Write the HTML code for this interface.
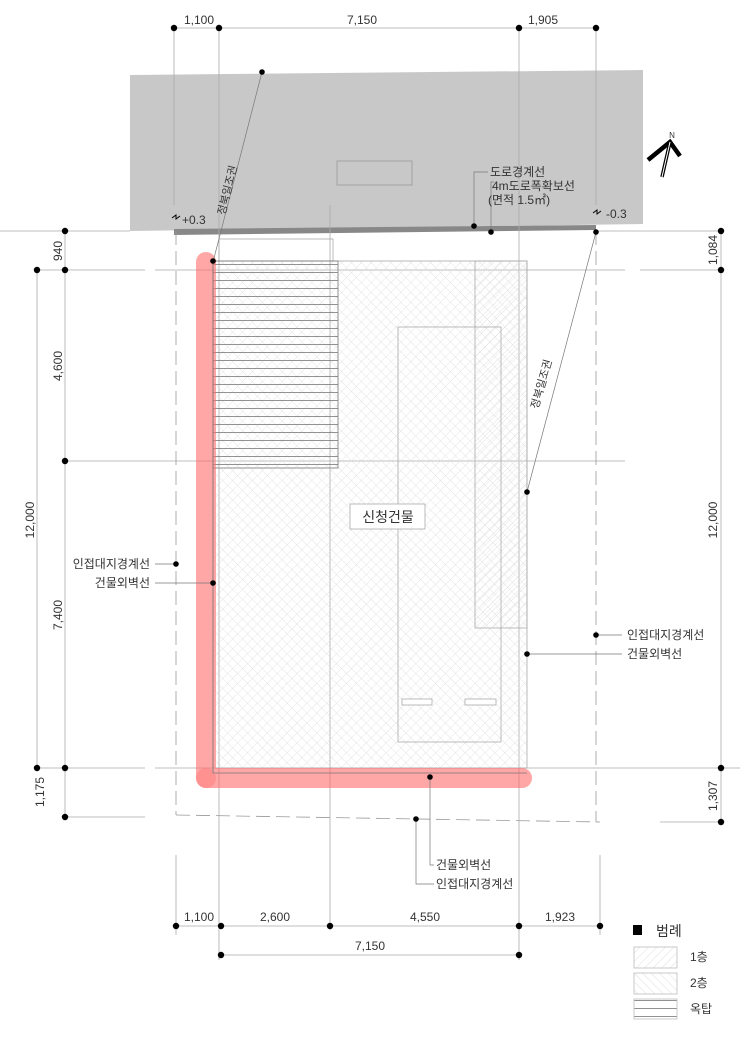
<!DOCTYPE html>
<html><head><meta charset="utf-8"><style>
html,body{margin:0;padding:0;background:#fff;}
svg{display:block;}
text{font-family:"Liberation Sans","Noto Sans CJK KR",sans-serif;fill:#333;}
</style></head><body>
<svg width="750" height="1047" viewBox="0 0 750 1047" xmlns="http://www.w3.org/2000/svg">
<defs>
<pattern id="h1" width="6" height="6" patternUnits="userSpaceOnUse" patternTransform="rotate(45)"><line x1="0" y1="0" x2="0" y2="6" stroke="#d8d8d8" stroke-width="0.8"/></pattern>
<pattern id="h2" width="7" height="7" patternUnits="userSpaceOnUse" patternTransform="rotate(45)"><path d="M0 0V7M0 0H7" stroke="#dcdcdc" stroke-width="0.7" fill="none"/></pattern>
<pattern id="h3" width="6" height="6" patternUnits="userSpaceOnUse" patternTransform="rotate(-45)"><line x1="0" y1="0" x2="0" y2="6" stroke="#d8d8d8" stroke-width="0.8"/></pattern>
<pattern id="hz" width="10" height="8" patternUnits="userSpaceOnUse"><line x1="0" y1="0.5" x2="10" y2="0.5" stroke="#777" stroke-width="0.8"/></pattern>
</defs>

<polygon points="130,75 643,70 643,224 130,231" fill="#c8c8c8"/>
<polygon points="174,229 596,225 596,230 174,235" fill="#888"/>
<rect x="337" y="161" width="75" height="24" fill="none" stroke="#999" stroke-width="0.8"/>

<g stroke="#aaa" stroke-width="0.8" fill="none">
<line x1="174" y1="28" x2="174" y2="205"/>
<line x1="219" y1="28" x2="219" y2="960"/>
<line x1="519" y1="28" x2="519" y2="960"/>
<line x1="596" y1="28" x2="596" y2="205"/>
<line x1="330" y1="205" x2="330" y2="930"/>
<line x1="174" y1="28" x2="596" y2="28"/>
<line x1="37" y1="270" x2="145" y2="270"/><line x1="155" y1="270" x2="625" y2="270"/>
<line x1="65" y1="461" x2="625" y2="461"/>
<line x1="37" y1="768" x2="145" y2="768"/><line x1="155" y1="768" x2="740" y2="768"/>
<line x1="65" y1="817" x2="145" y2="817"/>
<line x1="0" y1="231" x2="130" y2="231"/><line x1="596" y1="231" x2="721" y2="231"/>
<line x1="640" y1="270" x2="721" y2="270"/>
<line x1="660" y1="822" x2="721" y2="822"/>
<line x1="37" y1="270" x2="37" y2="768"/>
<line x1="65" y1="231" x2="65" y2="817"/>
<line x1="721" y1="231" x2="721" y2="822"/>
<line x1="176" y1="855" x2="176" y2="935"/>
<line x1="600" y1="855" x2="600" y2="935"/>
<line x1="176" y1="926" x2="600" y2="926"/>
<line x1="221" y1="955" x2="519" y2="955"/>
</g>
<g stroke="#999" stroke-width="0.8" fill="none" stroke-dasharray="14,6">
<line x1="176" y1="231" x2="176" y2="815"/>
<line x1="176" y1="815" x2="600" y2="822"/>
<line x1="596" y1="231" x2="596" y2="822"/>
</g>

<rect x="213" y="261" width="314" height="507" fill="url(#h2)" stroke="#aaa" stroke-width="0.8"/>
<rect x="475" y="261" width="52" height="367" fill="url(#h1)" stroke="#aaa" stroke-width="0.8"/>
<rect x="219" y="239" width="114" height="22" fill="none" stroke="#aaa" stroke-width="0.8"/>
<rect x="213" y="261" width="125" height="207" fill="url(#hz)" stroke="#777" stroke-width="0.8"/>
<rect x="398" y="327" width="103" height="415" fill="none" stroke="#aaa" stroke-width="0.8"/>
<rect x="402" y="699" width="30" height="6" fill="#fff" stroke="#aaa" stroke-width="0.8"/>
<rect x="465" y="699" width="31" height="6" fill="#fff" stroke="#aaa" stroke-width="0.8"/>
<rect x="350" y="504" width="75" height="25" fill="#fff" stroke="#aaa" stroke-width="0.8"/>
<text x="388" y="522" font-size="14" text-anchor="middle">신청건물</text>

<path d="M206,262 V778 H522" fill="none" stroke="#ff6b6b" stroke-opacity="0.6" stroke-width="20" stroke-linecap="round" stroke-linejoin="round"/>
<circle cx="206" cy="778" r="10" fill="#ff6b6b" fill-opacity="0.35"/>
<line x1="213" y1="261" x2="213" y2="773" stroke="#777" stroke-width="0.8"/>
<line x1="213" y1="773" x2="527" y2="773" stroke="#777" stroke-width="0.8"/>

<g stroke="#777" stroke-width="0.7" fill="none">
<line x1="262" y1="72" x2="213" y2="262"/>
<line x1="596" y1="232" x2="527" y2="492"/>
<polyline points="474,226 474,172 488,172"/>
<polyline points="491,232 491,182 494,182"/>
<line x1="155" y1="564" x2="176" y2="564"/>
<line x1="155" y1="583" x2="213" y2="583"/>
<line x1="596" y1="635" x2="622" y2="635"/>
<line x1="527" y1="654" x2="622" y2="654"/>
<polyline points="430,777 430,865 434,865"/>
<polyline points="416,819 416,884 434,884"/>
</g>

<g fill="#000">
<circle cx="174" cy="28" r="3.2"/><circle cx="219" cy="28" r="3.2"/><circle cx="519" cy="28" r="3.2"/><circle cx="596" cy="28" r="3.2"/>
<circle cx="262" cy="72" r="2.8"/><circle cx="213" cy="261" r="2.8"/>
<circle cx="474" cy="226" r="2.8"/><circle cx="491" cy="232" r="2.8"/><circle cx="596" cy="232" r="2.8"/>
<circle cx="527" cy="492" r="2.8"/>
<circle cx="65" cy="231" r="3.2"/><circle cx="37" cy="270" r="3.2"/><circle cx="65" cy="270" r="3.2"/><circle cx="65" cy="461" r="3.2"/>
<circle cx="37" cy="768" r="3.2"/><circle cx="65" cy="768" r="3.2"/><circle cx="65" cy="817" r="3.2"/>
<circle cx="721" cy="231" r="3.2"/><circle cx="721" cy="270" r="3.2"/><circle cx="721" cy="768" r="3.2"/><circle cx="721" cy="822" r="3.2"/>
<circle cx="176" cy="564" r="2.8"/><circle cx="213" cy="583" r="2.8"/>
<circle cx="596" cy="635" r="2.8"/><circle cx="527" cy="654" r="2.8"/>
<circle cx="430" cy="777" r="2.8"/><circle cx="416" cy="819" r="2.8"/>
<circle cx="176" cy="926" r="3.2"/><circle cx="221" cy="926" r="3.2"/><circle cx="330" cy="926" r="3.2"/><circle cx="519" cy="926" r="3.2"/><circle cx="600" cy="926" r="3.2"/>
<circle cx="221" cy="955" r="3.2"/><circle cx="519" cy="955" r="3.2"/>
</g>

<g font-size="12" text-anchor="middle">
<text x="199" y="24">1,100</text><text x="362" y="24">7,150</text><text x="543" y="24">1,905</text>
<text x="199" y="921">1,100</text><text x="275" y="921">2,600</text><text x="425" y="921">4,550</text><text x="560" y="921">1,923</text>
<text x="370" y="950">7,150</text>
</g>
<g font-size="12" text-anchor="middle">
<text transform="translate(62,251) rotate(-90)">940</text>
<text transform="translate(62,366) rotate(-90)">4,600</text>
<text transform="translate(34,520) rotate(-90)">12,000</text>
<text transform="translate(62,615) rotate(-90)">7,400</text>
<text transform="translate(44,792) rotate(-90)">1,175</text>
<text transform="translate(717,250) rotate(-90)">1,084</text>
<text transform="translate(717,520) rotate(-90)">12,000</text>
<text transform="translate(717,796) rotate(-90)">1,307</text>
</g>

<g font-size="12">
<text x="490" y="176">도로경계선</text>
<text x="492" y="190">4m도로폭확보선</text>
<text x="488" y="204">(면적 1.5㎡)</text>
<text x="182" y="224">+0.3</text>
<text x="606" y="218">-0.3</text>
<text x="150" y="568" text-anchor="end">인접대지경계선</text>
<text x="150" y="587" text-anchor="end">건물외벽선</text>
<text x="627" y="639">인접대지경계선</text>
<text x="627" y="658">건물외벽선</text>
<text x="436" y="869">건물외벽선</text>
<text x="436" y="888">인접대지경계선</text>
<text transform="translate(231,191) rotate(-76)" font-size="11" text-anchor="middle">정북일조권</text>
<text transform="translate(545,385) rotate(-74)" font-size="11" text-anchor="middle">정북일조권</text>
</g>
<path d="M172,218 l4,-3 l0,4 l4,-3" stroke="#000" stroke-width="1" fill="none"/>
<path d="M593,213 l4,-3 l0,4 l4,-3" stroke="#000" stroke-width="1" fill="none"/>

<polyline points="648,160 670,142 680,156" fill="none" stroke="#000" stroke-width="4.5"/>
<line x1="670" y1="142" x2="662" y2="177" stroke="#000" stroke-width="3.5"/>
<line x1="670" y1="142" x2="662" y2="177" stroke="#fff" stroke-width="1"/>
<text x="672" y="138" font-size="8" text-anchor="middle" fill="#000">N</text>

<rect x="633" y="925" width="9" height="10" fill="#000"/>
<text x="656" y="936" font-size="14">범례</text>
<rect x="634" y="947" width="43" height="21" fill="url(#h1)" stroke="#bbb" stroke-width="0.8"/>
<rect x="634" y="973" width="43" height="21" fill="url(#h3)" stroke="#bbb" stroke-width="0.8"/>
<rect x="634" y="999" width="43" height="20" fill="url(#hz)" stroke="#bbb" stroke-width="0.8"/>
<g font-size="12"><text x="690" y="961">1층</text><text x="690" y="987">2층</text><text x="690" y="1013">옥탑</text></g>
</svg>
</body></html>
